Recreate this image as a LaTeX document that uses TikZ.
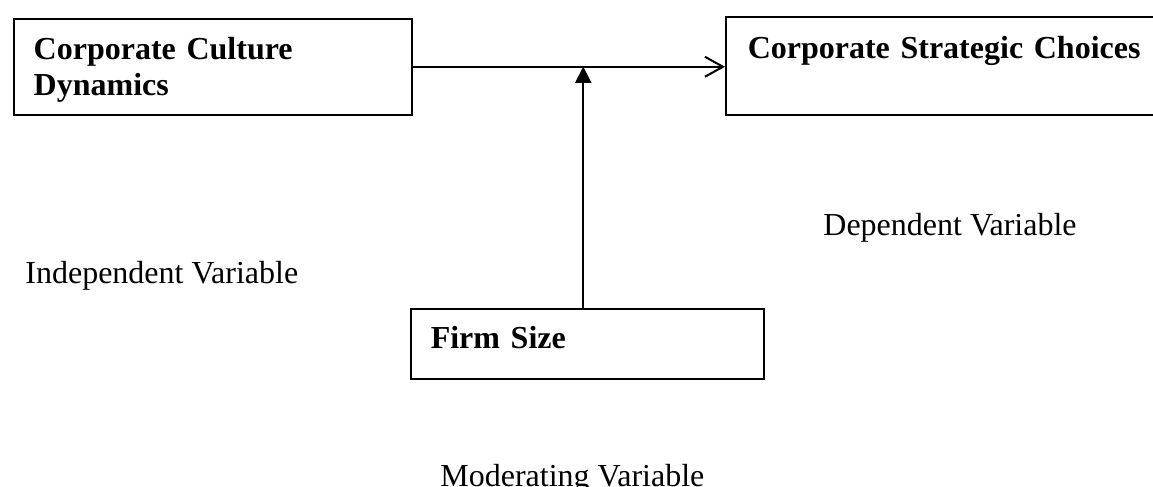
\documentclass[tikz,border=0pt]{standalone}
\usepackage{fontspec}
\setmainfont{Liberation Serif}
\usetikzlibrary{arrows.meta}

\tikzset{
  varbox/.style={draw,line width=0.75pt,anchor=north west,inner ysep=0pt,align=left,
    font=\fontsize{16}{18}\selectfont\bfseries},
  varlabel/.style={anchor=base west,inner sep=0pt,font=\fontsize{16}{18}\selectfont}
}

\begin{document}
\begin{tikzpicture}[x=0.5pt,y=-0.5pt]
\useasboundingbox (0,0) rectangle (1153,487);
% the three boxes
\node[varbox,inner xsep=10pt,text width=179pt,text height=20.5pt,text depth=27.5pt] (culture) at (13,18) {Corporate Culture\\Dynamics};
\node[varbox,inner xsep=11pt,text width=203pt,text height=21pt,text depth=28pt] (strategic) at (725,16) {Corporate Strategic Choices};
\node[varbox,inner xsep=10pt,text width=156.5pt,text height=20pt,text depth=15pt] (firm) at (410,308) {Firm Size};
% the labels under them
\node[varlabel] (indep) at (25,283) {Independent Variable};
\node[varlabel] (dep) at (823,235) {Dependent Variable};
\node[varlabel] (moder) at (440,486) {Moderating Variable};
% arrows
\draw[line width=1pt,-{Straight Barb[length=9pt,width=10pt]}] (culture.east) -- (culture.east -| strategic.west);
\draw[line width=1pt,-{Triangle[length=8pt,width=8pt]}] ([xshift=-2pt]firm.north) -- ([xshift=-2pt]firm.north |- culture.east);
\end{tikzpicture}
\end{document}
